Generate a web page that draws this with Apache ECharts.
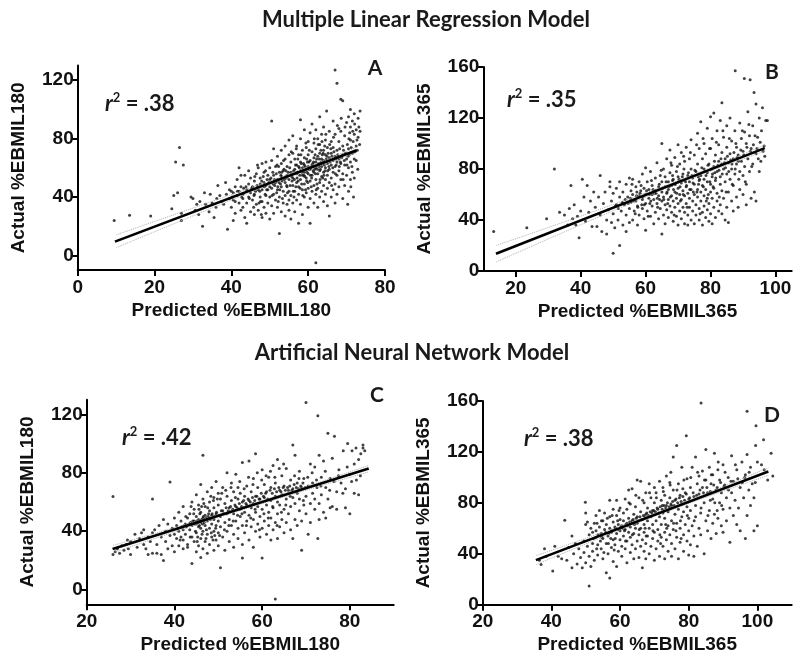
<!DOCTYPE html>
<html>
<head>
<meta charset="utf-8">
<script src="https://cdn.jsdelivr.net/npm/echarts@6/dist/echarts.min.js"></script>
<style>html,body{margin:0;padding:0;background:#fff}#c{width:800px;height:665px}</style>
</head>
<body>
<div id="c"></div>
<script>
// ---------- titles / labels ----------
const titleTop = 'Multiple Linear Regression Model';
const titleBottom = 'Artificial Neural Network Model';
const panelLetters = ['A', 'B', 'C', 'D'];
const r2Values = ['.38', '.35', '.42', '.38'];
const xNames = ['Predicted %EBMIL180', 'Predicted %EBMIL365', 'Predicted %EBMIL180', 'Predicted %EBMIL365'];
const yNames = ['Actual %EBMIL180', 'Actual %EBMIL365', 'Actual %EBMIL180', 'Actual %EBMIL365'];

// ---------- axis ranges and tick labels ----------
const xRangeA = [0, 80],   xTicksA = [0, 20, 40, 60, 80];
const yRangeA = [-10, 130], yTicksA = [0, 40, 80, 120];
const xRangeB = [10, 105], xTicksB = [20, 40, 60, 80, 100];
const yRangeB = [0, 160],  yTicksB = [0, 40, 80, 120, 160];
const xRangeC = [20, 90],  xTicksC = [20, 40, 60, 80];
const yRangeC = [-10, 130], yTicksC = [0, 40, 80, 120];
const xRangeD = [20, 110], xTicksD = [20, 40, 60, 80, 100];
const yRangeD = [0, 160],  yTicksD = [0, 40, 80, 120, 160];

// ---------- regression lines ----------
const fitA = [[9.7, 9.5], [72.6, 72.1]];
const fitB = [[13.9, 13.5], [96.7, 96.4]];
const fitC = [[25.9, 27.8], [84.3, 82.9]];
const fitD = [[35.5, 35.0], [103.2, 104.6]];

// ---------- 95% confidence bands ----------
const bandXA = [10, 25, 40, 57, 72.5];
const bandUpA = [14.1, 27.9, 41.7, 57.8, 74.0];
const bandLoA = [5.3, 21.7, 37.9, 55.6, 70.2];
const bandXB = [14, 30, 50, 72, 97];
const bandUpB = [20.1, 34.1, 52.2, 72.9, 99.2];
const bandLoB = [7.1, 25.1, 47.2, 70.5, 94.2];
const bandXC = [26, 40, 54, 70, 84.3];
const bandUpC = [30.3, 42.5, 55.2, 70.6, 85.0];
const bandLoC = [25.3, 39.5, 53.2, 68.0, 80.6];
const bandXD = [35.5, 50, 70, 87, 103.2];
const bandUpD = [38.5, 52.1, 71.6, 89.5, 107.6];
const bandLoD = [31.5, 47.7, 69.4, 86.3, 101.6];

// ---------- scatter points (predicted, actual) ----------
const pointsA = [
[9.5,24],[13.5,27.5],[19,27],[24.5,32],[25,41],[25.5,64],[26.5,74],[27.5,62],[26,43],[27,24],[27,29],[29.5,40],[30,39],[31,35],[31.5,28],[32.5,20],[33,43],[34.5,42],[35,36],[35.5,26],[36,33],[36.5,48],[37,41],[38,35],[38.5,50],[39,18],[39.5,39],[39.5,45],[40,33],[40.5,43],
[40,44],[40.5,38],[41,47],[41,29],[41.5,41],[41.5,52],[42,36],[42,44],[42,60],[42.5,31],[42.5,47],[43,39],[43,42],[43.5,55],[43.5,26],[44,22],[44,45],[44,36],[44.5,49],[44.5,40],[45,30],[45,53],[45,43],[40.5,24],[42.5,55],[43,33],[44.5,58],[41,37],[43.8,47],
[45.5,38],[45.5,47],[46,28],[46,51],[46,42],[46.5,56],[46.5,35],[47,45],[47,31],[47,60],[47.5,40],[47.5,49],[47.5,53],[48,26],[48,37],[48,45],[48,63],[48.5,33],[48.5,50],[48.5,57],[49,41],[49,29],[49,48],[49,64],[49.5,36],[49.5,45],[49.5,55],[50,25],[50,40],[50,52],[50,60],[46.3,44],[47.2,36],[48.8,42],[45.8,33],[46.8,62],[47.8,28],[49.3,52],[50,47],[48.3,54],
[50.5,92],[50.5,34],[50.5,46],[50.5,65],[51,29],[51,42],[51,55],[51,73],[51.5,38],[51.5,50],[51.5,61],[52,33],[52,45],[52,52],[52,68],[52.5,15],[52.5,40],[52.5,57],[53,30],[53,47],[53,54],[53,63],[53,72],[53.5,36],[53.5,44],[53.5,58],[54,27],[54,41],[54,50],[54,66],[54,75],[54.5,35],[54.5,47],[54.5,55],[54.5,61],[55,31],[55,44],[55,52],[55,69],[55,79],[51.3,48],[52.3,61],[53.3,39],[54.2,58],[50.8,57],[51.8,43],[52.8,49],[53.8,52],[55,38],[52.2,37],
[55.5,41],[55.5,57],[55.5,64],[55.5,25],[56,36],[56,48],[56,53],[56,70],[56,82],[56.5,44],[56.5,59],[56.5,66],[56.5,30],[57,38],[57,50],[57,56],[57,62],[57,75],[57.5,42],[57.5,47],[57.5,61],[57.5,69],[57.5,22],[58,35],[58,52],[58,58],[58,64],[58,80],[58,93],[58.5,45],[58.5,55],[58.5,60],[58.5,72],[58.5,28],[59,40],[59,49],[59,57],[59,62],[59,67],[59,86],[59.5,43],[59.5,53],[59.5,59],[59.5,74],[60,33],[60,46],[60,56],[60,61],[60,69],[60,78],[55.8,51],[56.8,47],[57.3,66],[58.3,49],[58.8,63],[59.3,45],[59.8,64],[56.3,40],[57.8,55],[59.6,51],
[60.5,22],[60.5,39],[60.5,51],[60.5,59],[60.5,65],[60.5,84],[61,44],[61,55],[61,62],[61,71],[61,90],[61.5,36],[61.5,48],[61.5,57],[61.5,67],[61.5,77],[62,-5],[62,42],[62,52],[62,60],[62,64],[62,73],[62,86],[62.5,33],[62.5,46],[62.5,56],[62.5,68],[62.5,80],[63,40],[63,50],[63,58],[63,63],[63,70],[63,76],[63,95],[63.5,44],[63.5,54],[63.5,61],[63.5,66],[63.5,83],[64,37],[64,48],[64,57],[64,65],[64,72],[64,88],[64.5,42],[64.5,52],[64.5,60],[64.5,69],[64.5,79],[64.8,99],[65,34],[65,46],[65,55],[65,63],[65,74],[60.8,47],[61.8,69],[62.8,61],[63.8,53],[64.3,75],[61.3,58],[62.3,49],[63.3,72],
[65.5,27],[65.5,50],[65.5,59],[65.5,67],[65.5,85],[66,40],[66,53],[66,62],[66,70],[66,78],[66.5,45],[66.5,57],[66.5,65],[66.5,74],[66.5,92],[67,127],[67,36],[67,49],[67,61],[67,68],[67,83],[67.5,118],[67.5,42],[67.5,55],[67.5,64],[67.5,72],[68,47],[68,58],[68,66],[68,78],[68,87],[68.5,107],[68.5,52],[68.5,63],[68.5,85],[69,106],[69,39],[69,56],[69,69],[69,75],[69.5,48],[69.5,62],[69.5,82],[70,55],[70,91],
[70,66],[70.5,44],[70.5,60],[70.5,73],[70.5,95],[71,52],[71,64],[71,79],[71,88],[71,100],[71.5,57],[71.5,70],[71.5,92],[72,53],[72,66],[72,83],[72,97],[72.5,65],[72.5,75],[72.5,86],[73,81],[73,94],[73.5,99],[73.5,85],[70.3,35],[71.8,40],[72.8,72],[70.8,84]
];
const densePointsA = [
[45.3,46],[45.9,41],[46.7,48],[47.4,44],[47.9,51],[48.6,47],[49.2,45],[49.8,50],[50.3,53],[50.9,49],[51.2,52],[51.7,56],[52.4,50],[52.9,55],[53.2,51],[53.7,59],[54.3,53],[54.8,57],[55.2,60],[55.7,54],[56.2,58],[56.7,62],[57.2,57],[57.7,60],[58.2,63],[58.7,58],[59.2,61],[59.7,57],[60.2,64],[60.7,60],[61.2,63],[61.7,59],[62.2,66],[62.7,63],[63.2,59],[63.7,69],[64.2,62],[64.7,66],[65.2,70],[65.7,64],[66.2,68],[66.7,71],[67.2,66],[67.7,69],[68.2,73],[68.7,67],[69.2,72],[69.7,70],[70.2,76],[70.7,69],[71.2,74],[71.7,78],[72.2,71],[72.7,79],
[46.1,54],[47.6,37],[48.9,58],[50.6,41],[51.9,62],[52.6,45],[53.6,65],[54.6,43],[55.6,71],[56.1,44],[56.9,73],[57.4,51],[58.1,69],[58.6,41],[59.4,77],[59.9,50],[60.3,72],[60.9,53],[61.6,80],[62.1,45],[62.6,76],[63.1,52],[63.6,78],[64.1,55],[64.6,83],[65.1,58],[65.6,76],[66.1,48],[66.6,81],[67.1,56],[67.6,89],[68.1,61],[68.6,94],[69.1,52],[69.6,88],[70.1,62],[70.6,80],[71.1,47],[71.6,85],[72.1,90],[72.9,59],[73.2,88],[73.4,76],[44.7,39],[43.2,46],[42.7,40],[41.6,44],[40.2,40],[38.7,42],[37.4,37],[36.2,39],[34.2,30],[33.3,35],[31.8,37],[30.6,31],
[57.1,53],[58.4,57],[59.1,54],[60.1,59],[60.6,55],[61.1,61],[61.9,56],[62.4,59],[63.4,64],[64.4,58],[65.4,61],[66.4,60],[67.3,62],[68.4,64],[69.4,65],[70.4,68],[71.4,61],[65.9,73],[64.9,68],[63.9,70],[62.9,66],[61.4,64],[59.6,66],[58.9,55],[57.9,46],[56.4,52],[55.3,48],[54.4,48],[53.1,57],[52.1,47]
];
const pointsB = [
[13.2,31],[23.4,34],[29.5,41],[31.9,80],
[33.5,46],[35,44],[36,36],[36.5,49],[37,67],[37.5,41],[38,52],[38.5,36],[39,43],[39.5,26],[40,47],[40.5,72],[41,58],[41.5,39],[42,67],[42.5,46],[43,55],[43.5,35],[44,62],[44.5,50],
[45,35],[45.5,58],[46,75],[46,44],[46.5,31],[47,53],[47.5,62],[48,40],[48,29],[48.5,48],[49,66],[49,70],[49.5,55],[49.5,38],[50,14],[50,45],[50,61],[50.5,34],[51,52],[51,65],[51.5,40],[52,20],[52,58],[52,70],[52.5,47],[53,36],[53,62],[53.5,52],[54,31],[54,44],[54,68],[54.5,58],[55,49],[55,73],[55,38],
[55.5,54],[55.5,63],[56,40],[56,60],[56,72],[56.5,47],[57,55],[57,66],[57.5,36],[57.5,51],[58,59],[58,70],[58,44],[58.5,63],[59,49],[59,56],[59,76],[59.5,41],[59.5,65],[60,32],[60,53],[60,60],[60,81],[60.5,47],[60.5,70],[61,57],[61,64],[61.5,43],[61.5,78],[62,51],[62,60],[62,67],[62.5,37],[62.5,56],[63,46],[63,63],[63,73],[63.5,53],[63.5,85],[64,41],[64,59],[64,66],[64.5,49],[64.5,75],[65,29],[65,55],[65,62],[65,70],[65,100],[57.3,62],[58.8,52],[61.3,53],[62.8,61],[64.3,56],[55.8,68],
[65.5,44],[65.5,58],[65.5,80],[66,37],[66,52],[66,66],[66,74],[66.5,48],[66.5,61],[66.5,88],[67,42],[67,56],[67,64],[67,70],[67.5,51],[67.5,77],[67.5,95],[68,46],[68,59],[68,67],[68,83],[68.5,39],[68.5,55],[68.5,72],[69,50],[69,62],[69,68],[69,89],[69.5,43],[69.5,57],[69.5,78],[70,36],[70,53],[70,65],[70,74],[70,99],[70.5,47],[70.5,60],[70.5,84],[71,41],[71,56],[71,69],[71,93],[71.5,50],[71.5,63],[71.5,76],[72,37],[72,46],[72,59],[72,71],[72,86],[72.5,53],[72.5,66],[72.5,97],[73,36],[73,44],[73,61],[73,75],[73.5,50],[73.5,57],[73.5,70],[73.5,88],[74,40],[74,64],[74,80],[74,103],[74.5,47],[74.5,55],[74.5,73],[75,37],[75,60],[75,68],[75,91],[68.3,75],[71.8,80],
[75.5,44],[75.5,52],[75.5,78],[76,58],[76,64],[76,84],[76,108],[76.5,40],[76.5,49],[76.5,71],[76.5,96],[77,55],[77,62],[77,75],[77,117],[77.5,36],[77.5,46],[77.5,67],[77.5,88],[78,51],[78,59],[78,72],[78,80],[78,100],[78.5,42],[78.5,64],[78.5,92],[79,48],[79,57],[79,70],[79,77],[79,112],[79.5,39],[79.5,53],[79.5,84],[80,45],[80,62],[80,68],[80,96],[80,121],[80.5,37],[80.5,57],[80.5,74],[80.5,104],[81,50],[81,65],[81,82],[81,124],[81.5,42],[81.5,71],[81.5,91],[82,55],[82,61],[82,78],[82,110],[82.5,47],[82.5,86],[82.5,99],[83,52],[83,68],[83,74],[83,118],[83.5,132],[83.5,45],[83.5,63],[83.5,93],[84,57],[84,80],[84,105],[84.5,40],[84.5,70],[84.5,88],[85,50],[85,76],[85,114],[85,97],[76.3,68],[79.3,60],[81.3,77],[83.3,84],
[85.5,38],[85.5,62],[85.5,85],[86,72],[86,92],[86,120],[86.5,55],[86.5,80],[86.5,102],[87,47],[87,67],[87,88],[87.6,157],[87.5,76],[87.5,110],[88,58],[88,84],[88,97],[88.5,50],[88.5,91],[89,64],[89,78],[89,116],[89.5,86],[89.5,104],[90,60],[90,75],[90,94],[90.4,151],[90.5,82],[90.5,109],[91,52],[91,68],[91,100],[91.5,88],[91.5,125],[92.2,150],[92,78],[92,106],[92.5,57],[92.5,96],[93,84],[93,114],[93.4,140],[93.5,62],[94,92],[94,131],[94.5,105],[95,120],[95.5,86],[96,128],[96.5,98],[97,118],[97.5,118],[94,55],[95,78]
];
const densePointsB = [
[50.7,51],[51.6,49],[52.8,54],[53.7,56],[54.6,53],[55.3,57],[56.3,55],[57.2,59],[58.3,61],[59.2,58],[60.3,63],[61.2,60],[62.3,64],[63.2,61],[64.2,68],[65.2,65],[66.3,70],[67.2,66],[68.3,71],[69.2,68],[70.3,72],[71.3,74],[72.3,70],[73.2,77],[74.3,75],[75.2,79],[76.2,74],[77.3,81],[78.2,78],[79.2,83],[80.3,80],[81.2,86],[82.3,83],[83.2,88],[84.3,85],[85.2,90],[86.2,87],[87.2,93],[88.2,89],[89.3,95],[90.2,91],[91.2,97],[92.3,94],[93.2,99],[94.3,96],[95.3,101],[96.2,94],
[56.8,45],[58.6,67],[60.8,43],[61.8,71],[63.7,50],[64.8,79],[66.8,53],[67.8,85],[68.8,44],[69.8,82],[70.7,55],[71.7,90],[72.8,50],[73.8,93],[74.7,62],[75.7,99],[76.8,45],[77.7,104],[78.7,55],[79.7,96],[80.8,66],[81.8,101],[82.7,58],[83.8,110],[84.8,62],[85.8,104],[86.7,68],[87.8,100],[88.7,72],[89.8,110],[90.7,70],[91.8,115],[92.7,82],[93.7,106],[94.7,88],[95.7,110],[96.7,90],
[66.6,62],[68.6,64],[70.6,66],[72.6,67],[74.6,69],[76.6,72],[78.6,75],[80.6,76],[82.6,79],[84.6,81],[86.6,84],[88.6,86],[75.8,62],[77.8,66],[79.8,70],[81.6,73],[83.6,76],[85.6,78],[87.6,80],[73.6,64],[71.6,60],[69.6,61],[67.6,58],[65.6,56],[63.6,57],[61.6,55],[59.6,52],[57.6,50]
];
const pointsC = [
[26,63.7],[26,24],[26.5,26],[27,28],[27.5,25],[28,30],[28.5,27],[29,31],[29.5,28],[30,33],[30,24],[31,38],[31.5,29],[32,35],[32.5,39],[33,31],[33,41],[33.5,28],[34,36],[34,24],[34.5,33],[35,62],[35,39],[35,25],[29.3,34],
[35.5,41],[36,25],[36,31],[36.5,44],[37,24],[37,36],[37.5,20],[37.5,48],[38,33],[38,40],[38.5,28],[38.5,45],[39,73.7],[39,37],[39.5,30],[39.5,42],[40,38],[40,49],[40,26],[40.5,35],[40.5,44],[41,40],[41,53],[41,30],[41.5,36],[41.5,47],[42,28],[42,41],[42,57],[42,34],
[42.5,45],[42.5,38],[43,31],[43,49],[43,29],[43.5,41],[43.5,52],[44,18],[44,36],[44,44],[44,60],[44.5,33],[44.5,47],[44.5,55],[45,26],[45,39],[45,45],[45,50],[45,65],[45.5,30],[45.5,43],[45.5,48],[45.5,58],[46,22],[46,35],[46,42],[46,46],[46,53],[46,72],[46.5,92],[46.5,28],[46.5,40],[46.5,49],[46.5,62],[47,33],[47,44],[47,51],[47,57],[47.5,25],[47.5,38],[47.5,47],[47.5,67],[48,31],[48,42],[48,54],[48,60],[48.5,36],[48.5,45],[48.5,51],[48.5,70],[49,27],[49,40],[49,48],[49,56],[49,63],[49.5,34],[49.5,44],[49.5,52],[49.5,74],[50,30],[50,39],[50,47],[50,58],[50,66],[45.3,36],[46.2,57],[47.3,41],[48.3,64],[49.2,37],[43.8,57],[44.8,40],[45.8,52],[46.8,46],[47.8,52],[48.8,34],
[50.5,15],[50.5,43],[50.5,50],[50.5,62],[51,36],[51,54],[51,70],[51.5,27],[51.5,46],[51.5,59],[52,40],[52,52],[52,64],[52,80],[52.5,33],[52.5,48],[52.5,56],[53,44],[53,61],[53,73],[53.5,29],[53.5,38],[53.5,52],[53.5,67],[54,47],[54,57],[54,79],[54.5,35],[54.5,42],[54.5,62],[54.5,70],[55,50],[55,55],[55,66],[55.5,21.6],[55.5,31],[55.5,44],[55.5,60],[55.5,87],[56,39],[56,53],[56,64],[56.5,47],[56.5,58],[56.5,71],[57,34],[57,51],[57,61],[57,88],[57.5,43],[57.5,56],[57.5,67],[58,29],[58,48],[58,59],[58,76],[58.5,40],[58.5,53],[58.5,64],[58.5,93],[59,45],[59,57],[59,70],[59.5,36],[59.5,50],[59.5,62],[60,21.6],[60,42],[60,55],[60,82],
[60.5,47],[60.5,63],[60.5,72],[61,38],[61,58],[61,67],[61.5,44],[61.5,53],[61.5,77],[62,34],[62,49],[62,61],[62,70],[62.5,41],[62.5,56],[62.5,85],[63,-6.4],[63,46],[63,64],[63,73],[63.5,35],[63.5,52],[63.5,60],[63.5,89],[64,43],[64,58],[64,68],[64.5,48],[64.5,65],[64.5,78],[65,39],[65,55],[65,71],[65.5,46],[65.5,62],[65.5,83],[66,52],[66,68],[66.5,41],[66.5,57],[66.5,75],[67,35],[67,63],[67,69],[67,99],[67.5,48],[67.5,59],[67.5,92],[68,44],[68,66],[68,73],[68.5,54],[68.5,62],[68.5,81],[69,27],[69,47],[69,70],[69.5,58],[69.5,76],[70,128],
[70,52],[70,64],[70.5,38],[70.5,71],[71,46],[71,59],[71,86],[71.5,66],[71.5,73],[72,55],[72,62],[72,84],[72.7,119],[72.5,70],[73,48],[73,59],[73,92],[73.5,65],[73.5,77],[74,53],[74,88],[74.5,49],[74.5,70],[75,62],[75,107],[75.5,56],[75.5,76],[76,90],[76,57],[76.5,105],[77,55],[77,67],[77.5,82],[78,73],[78.5,95],[79,56],[79,69],[79.5,100],[80,52],[80,79],[80.5,95],[81,66],[81,86],[81.5,75],[82,65],[82,89],[82.5,93],[83,97],[83,99],[72.7,35]
];
const densePointsC = [
[40.8,42],[41.7,43],[42.3,44],[42.8,43],[43.3,45],[43.7,46],[44.2,47],[44.6,45],[45.1,47],[45.4,46],[45.7,44],[45.9,47],[46.2,48],[46.4,45],[46.6,50],[46.9,48],[47.3,49],[47.7,50],[48.2,48],[48.6,52],[49.1,50],[49.6,53],[50.2,51],[50.7,54],[51.2,52],[51.8,56],[52.3,54],[52.8,57],[53.3,55],[53.8,58],[54.3,56],[54.8,59],[55.3,57],[55.8,61],[56.3,59],[56.8,62],[57.3,60],[57.8,63],[58.3,61],[58.8,64],[59.3,62],[59.8,66],[60.3,64],[60.8,66],[61.3,62],[61.8,68],[62.3,66],[62.8,69],[63.3,67],[63.8,70],[64.3,67],[64.8,70],[65.3,68],[65.8,70],[66.3,71],[66.8,68],[67.3,72],[67.8,70],[68.3,69],[68.8,71],[69.3,73],[69.8,70],
[41.3,34],[42.6,50],[43.6,36],[44.4,52],[45.2,33],[45.6,55],[46.3,38],[46.7,59],[47.2,35],[47.6,56],[48.4,39],[48.9,61],[49.4,42],[49.8,62],[50.3,37],[50.8,66],[51.4,41],[51.7,68],[52.4,44],[52.9,70],[53.4,47],[53.9,63],[54.4,51],[54.9,74],[55.4,52],[55.9,69],[56.4,44],[56.9,77],[57.4,49],[57.9,72],[58.4,55],[58.9,80],[59.4,41],[59.9,75],[60.4,52],[60.9,78],[61.4,49],[61.9,81],[62.4,57],[62.9,77],[63.4,44],[63.9,83],[64.4,53],[64.9,86],[65.4,58],[66.4,64],[67.4,78],[68.4,76],[69.4,61],[70.4,77],[71.4,80],[72.4,75],[73.4,71],[74.4,81],[75.4,68],[76.4,74],[77.4,78],[78.4,66],[79.4,84],[80.4,74],[81.4,97],[82.4,78],[83.4,95]
];
const pointsD = [
[36.5,35],[37,31.6],[38,44],[38.5,38],[40.4,26.4],[41,46],[42,38],[43,36],[43.9,66.4],[44.5,35],[45,45],[46,54],[46.5,40],[47,48],[47.5,32],[48,44],[48.5,37],[49,29],[49.5,50],[49.5,41],[49.9,80.5],[50,72],[50,63],[50,33],[46,29],
[50.5,65],[50.5,46],[51,14.7],[51,55],[51,38],[51.5,30],[51.5,60],[52,48],[52,42],[52.5,64],[52.5,35],[53,53],[53,58],[53,70],[53.5,39],[53.5,47],[54,61],[54,74],[54.5,44],[54.5,56],[55,36],[55,52],[55,66],[55.5,59],[55.5,72],[56,25],[56,48],[56,63],[56.5,40],[56.5,54],[57,21],[57,60],[57,69],[57,82],[57.5,45],[57.5,57],[58,34],[58,51],[58,65],[58,75],[58.5,61],[58.5,47],[59,30],[59,56],[59,70],[59,82],[59.5,42],[59.5,63],[60,51],[60,58],[60,67],[60,76],[53.3,64],[54.3,50],[55.3,41],[56.3,68],[57.3,52],[58.3,43],[59.3,66],[52,57],
[60.5,38],[60.5,46],[60.5,62],[61,54],[61,66],[61,72],[61.5,44],[61.5,59],[61.5,83],[62,33],[62,50],[62,64],[62,75],[62.5,57],[62.5,68],[62.5,90],[63,41],[63,53],[63,61],[63,79],[63.5,47],[63.5,66],[63.5,91],[64,36],[64,56],[64,71],[64.5,44],[64.5,60],[64.5,77],[65,50],[65,64],[65,69],[65,98],[65.5,37],[65.5,55],[65.5,84],[66,46],[66,60],[66,73],[66,97],[66.5,29],[66.5,51],[66.5,67],[67,42],[67,57],[67,63],[67,80],[67.5,36],[67.5,48],[67.5,71],[67.5,88],[68,54],[68,66],[68,76],[68.5,40],[68.5,60],[68.5,95],[69,46],[69,69],[69,84],[69.5,52],[69.5,63],[69.5,74],[70,35],[70,57],[70,80],[70,92],[61.3,58],[64.3,65],[67.3,60],
[70.5,44],[70.5,66],[70.5,88],[71,50],[71,59],[71,75],[71.5,38],[71.5,69],[71.5,97],[72,53],[72,63],[72,82],[72.5,46],[72.5,72],[72.5,92],[73,36],[73,57],[73,68],[73,86],[73.5,51],[73.5,78],[73.5,101],[74,42],[74,62],[74,73],[74.5,55],[74.5,84],[74.5,96],[75,38],[75,48],[75,66],[75,78],[75.5,59],[75.5,90],[75.5,116],[76,44],[76,71],[76,82],[76.5,53],[76.5,64],[76.5,125],[77,36],[77,75],[77,95],[77.5,49],[77.5,60],[77.5,86],[78,69],[78,79],[78,108],[78.5,42],[78.5,55],[78.5,73],[79,63],[79,88],[79.3,132.8],[79.5,50],[79.5,77],[79.5,99],[80,39],[80,58],[80,68],[80,83],[73.3,63],[76.3,58],[78.3,91],[71.8,48],[74.8,104],[77.8,52],[72.3,78],
[80.5,47],[80.5,74],[80.5,92],[81,62],[81,108],[81.5,38],[81.5,54],[81.5,85],[82,69],[82,78],[82,116],[82.5,46],[82.5,95],[83,60],[83,87],[83,101],[83.6,158.5],[83.5,72],[83.5,55],[84,92],[84,105],[84.5,40],[84.5,80],[85,66],[85,98],[85,122],[85.5,58],[85.5,88],[86,74],[86,108],[86.5,52],[86.5,95],[87,64],[87,83],[87,102],[87.5,71],[87.5,119],[88,56],[88,90],[88.5,68],[88.5,106],[89,80],[89,98],[89.5,62],[89.5,88],[90,75],[90,110],[90,57],[86.3,82],[88.3,74],
[90.5,94],[91,66],[91,84],[91.5,100],[92,49],[92,76],[92.5,88],[92.5,117],[93,70],[93,97],[93.5,82],[94,63],[94,106],[94.5,76],[95,58],[95,92],[95.5,112],[96,84],[96.5,52],[96.5,102],[97,151.9],[97,70],[97,118],[97.5,90],[98,108],[98,78],[98.5,95],[99,58],[99,84],[99.6,140.6],[99.5,125],[100,62],[100,112],[101.8,129.6],[104,119],[103,98],[102,106],[104.5,101]
];
const densePointsD = [
[52.3,52],[53.6,55],[54.7,53],[55.8,57],[56.7,56],[57.6,58],[58.7,60],[59.6,59],[60.3,61],[60.8,60],[61.7,63],[62.3,62],[62.8,65],[63.3,64],[63.8,67],[64.2,63],[64.7,68],[65.3,66],[65.8,69],[66.3,67],[66.8,70],[67.3,69],[67.8,72],[68.3,70],[68.8,73],[69.3,72],[69.8,74],[70.3,73],[70.8,76],[71.3,72],[71.7,77],[72.3,75],[72.8,78],[73.3,76],[73.8,80],[74.3,77],[74.8,79],[75.3,81],[75.8,78],[76.3,83],[76.8,80],[77.3,84],[77.8,81],[78.3,85],[78.8,82],[79.3,87],[80.3,84],[81.3,88],[82.3,86],[83.3,90],[84.3,88],[85.3,92],[86.3,89],[87.3,94],[88.3,92],[89.3,96],[90.3,93],[92.3,97],[94.3,99],[96.3,100],
[53.2,44],[54.6,66],[56.6,48],[57.7,70],[58.6,52],[59.7,74],[61.6,50],[62.6,80],[63.6,55],[64.6,86],[65.6,59],[66.6,82],[67.6,54],[68.6,88],[69.6,58],[70.6,84],[71.6,55],[72.6,89],[73.6,60],[74.6,94],[75.6,64],[76.6,90],[77.6,66],[78.6,98],[79.6,70],[80.6,100],[81.6,66],[82.6,104],[83.6,76],[84.6,98],[85.6,70],[86.6,102],[87.6,80],[88.6,112],[89.6,78],[90.6,104],[91.6,90],[93.6,110],[95.6,96],[97.6,104],[99.4,96],[101.2,110]
];

// ---------- layout ----------
const grids = [
  {left: 77.7, top: 65.6, width: 307.3, height: 204.5},
  {left: 483.3, top: 67, width: 308.4, height: 204},
  {left: 86.7, top: 399.7, width: 307, height: 204.6},
  {left: 482.7, top: 401, width: 309, height: 203.7}
];
const AX = 'Liberation Sans';
const TF = 'Lato';

function xAxis(i, range, ticks) {
  return {
    type: 'value', gridIndex: i, min: range[0], max: range[1],
    splitLine: {show: false},
    axisLine: {onZero: false, lineStyle: {color: '#000', width: 2}},
    axisTick: {customValues: ticks, length: 6, lineStyle: {color: '#000', width: 2}},
    axisLabel: {customValues: ticks, color: '#111', fontSize: 19, fontWeight: 'bold', fontFamily: AX, margin: 8},
    name: xNames[i], nameLocation: 'middle', nameGap: 31,
    nameTextStyle: {color: '#111', fontSize: 19, fontWeight: 'bold', fontFamily: AX}
  };
}
function yAxis(i, range, ticks) {
  return {
    type: 'value', gridIndex: i, min: range[0], max: range[1],
    splitLine: {show: false},
    axisLine: {onZero: false, lineStyle: {color: '#000', width: 2}},
    axisTick: {customValues: ticks, length: 6, lineStyle: {color: '#000', width: 2}},
    axisLabel: {customValues: ticks, color: '#111', fontSize: 19, fontWeight: 'bold', fontFamily: AX, margin: 4},
    name: yNames[i], nameLocation: 'middle', nameRotate: 90, nameGap: 49,
    nameTextStyle: {color: '#111', fontSize: 19, fontWeight: 'bold', fontFamily: AX}
  };
}

const pts = [pointsA.concat(densePointsA), pointsB.concat(densePointsB), pointsC.concat(densePointsC), pointsD.concat(densePointsD)];
const fits = [fitA, fitB, fitC, fitD];
const bands = [[bandXA, bandUpA, bandLoA], [bandXB, bandUpB, bandLoB], [bandXC, bandUpC, bandLoC], [bandXD, bandUpD, bandLoD]];

const series = [];
for (let i = 0; i < 4; i++) {
  series.push({
    type: 'scatter', xAxisIndex: i, yAxisIndex: i, data: pts[i],
    symbol: 'circle', symbolSize: 3, itemStyle: {color: '#111'}, silent: true, z: 2
  });
  const b = bands[i];
  [1, 2].forEach(k => {
    series.push({
      type: 'line', xAxisIndex: i, yAxisIndex: i, smooth: true, showSymbol: false, silent: true,
      data: b[0].map((x, j) => [x, b[k][j]]),
      lineStyle: {color: '#b0b0b0', width: 1, type: 'dotted'}, z: 3
    });
  });
  series.push({
    type: 'line', xAxisIndex: i, yAxisIndex: i, showSymbol: false, silent: true,
    data: fits[i], lineStyle: {color: '#000', width: 2.6}, z: 4
  });
}

// text positions
const letterPos = [[375, 68], [772, 72], [377, 395], [772, 415]];
const r2Pos = [[105, 104], [507, 100], [122, 438], [524, 439]];
const graphic = [
  {type: 'text', x: 426, y: 20, style: {text: titleTop, font: 'bold 22px ' + TF, fill: '#1a1a1a', align: 'center', verticalAlign: 'middle'}},
  {type: 'text', x: 412, y: 353, style: {text: titleBottom, font: 'bold 22px ' + TF, fill: '#1a1a1a', align: 'center', verticalAlign: 'middle'}}
];
for (let i = 0; i < 4; i++) {
  graphic.push({type: 'text', x: letterPos[i][0], y: letterPos[i][1],
    style: {text: panelLetters[i], font: 'bold 21px ' + TF, fill: '#1a1a1a', align: 'center', verticalAlign: 'middle'}});
  graphic.push({type: 'text', x: r2Pos[i][0], y: r2Pos[i][1],
    style: {
      text: '{r|r}{s|2}{n| = ' + r2Values[i] + '}',
      verticalAlign: 'middle', align: 'left',
      rich: {
        r: {font: 'italic bold 22px ' + TF, fill: '#1a1a1a', lineHeight: 26},
        s: {font: 'bold 13px ' + TF, fill: '#1a1a1a', verticalAlign: 'top', lineHeight: 14},
        n: {font: 'bold 22px ' + TF, fill: '#1a1a1a', lineHeight: 26}
      }
    }});
}

const chart = echarts.init(document.getElementById('c'), null, {renderer: 'canvas'});
chart.setOption({
  backgroundColor: '#fff',
  animation: false,
  grid: grids,
  xAxis: [xAxis(0, xRangeA, xTicksA), xAxis(1, xRangeB, xTicksB), xAxis(2, xRangeC, xTicksC), xAxis(3, xRangeD, xTicksD)],
  yAxis: [yAxis(0, yRangeA, yTicksA), yAxis(1, yRangeB, yTicksB), yAxis(2, yRangeC, yTicksC), yAxis(3, yRangeD, yTicksD)],
  series: series,
  graphic: graphic
});
</script>
</body>
</html>
